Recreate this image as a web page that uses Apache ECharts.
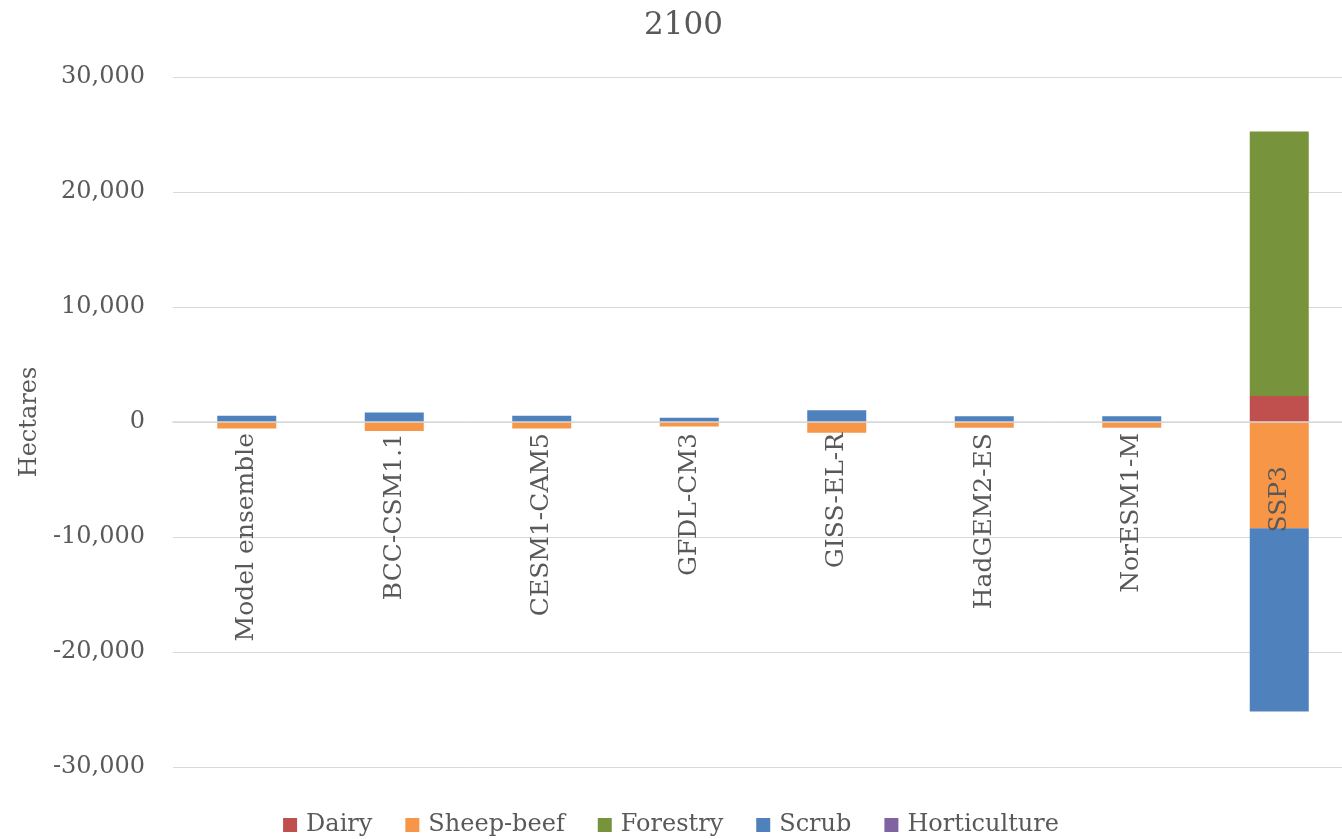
<!DOCTYPE html>
<html>
<head>
<meta charset="utf-8">
<script src="https://cdn.jsdelivr.net/npm/echarts@6/dist/echarts.min.js"></script>
<style>
  html, body { margin: 0; padding: 0; background: #fff; }
  #chart { width: 1342px; height: 839px; }
</style>
</head>
<body>
<div id="chart"></div>
<script>
// Land-use change by 2100 (hectares), per climate model and scenario
const categories = ['Model ensemble', 'BCC-CSM1.1', 'CESM1-CAM5', 'GFDL-CM3', 'GISS-EL-R', 'HadGEM2-ES', 'NorESM1-M', 'SSP3'];
const dairy        = [0, 0, 0, 0, 0, 0, 0, 2260];
const sheepBeef    = [-570, -790, -570, -400, -930, -500, -500, -9240];
const forestry     = [0, 0, 0, 0, 0, 0, 0, 23000];
const scrub        = [550, 820, 550, 370, 1020, 500, 500, -15940];
const horticulture = [0, 0, 0, 0, 0, 0, 0, 0];

const FONT = '"DejaVu Serif", "Liberation Serif", serif';
const TEXT = '#595959';

// plot area geometry
const GRID_TOP = 77;
const GRID_BOTTOM = 72;
const PLOT_H = 839 - GRID_TOP - GRID_BOTTOM;

function bar(name, data, color) {
  return {
    name: name,
    type: 'bar',
    stack: 'total',
    barWidth: '40%',
    data: data,
    itemStyle: { color: color },
    emphasis: { disabled: true }
  };
}

// the scenario label sits a little further from the axis line
const categoryItems = categories.map(c =>
  c === 'SSP3' ? { value: c, textStyle: { padding: [0, 33, 0, 0] } } : c
);

const chart = echarts.init(document.getElementById('chart'), null, { renderer: 'canvas' });
chart.setOption({
  animation: false,
  backgroundColor: '#fff',
  title: {
    text: '2100',
    left: 639,
    top: 5,
    textStyle: { fontFamily: FONT, fontSize: 31, fontWeight: 'normal', color: TEXT }
  },
  legend: {
    bottom: -3,
    left: 'center',
    itemWidth: 14,
    itemHeight: 14,
    itemGap: 33,
    icon: 'rect',
    textStyle: { fontFamily: FONT, fontSize: 24, color: TEXT, padding: [0, 0, 0, 4] },
    data: ['Dairy', 'Sheep-beef', 'Forestry', 'Scrub', 'Horticulture']
  },
  grid: {
    left: 173, right: -11, top: GRID_TOP, bottom: GRID_BOTTOM,
    containLabel: false,
    outerBoundsMode: 'none'
  },
  xAxis: {
    type: 'category',
    data: categoryItems,
    z: 10,
    // category axis runs along the zero line (middle of the symmetric value range)
    offset: -PLOT_H / 2,
    axisLine: { onZero: false, lineStyle: { color: '#d9d9d9', width: 1.5 } },
    axisTick: { show: false },
    axisLabel: {
      rotate: 90,
      margin: 11,
      fontFamily: FONT,
      fontSize: 25,
      color: TEXT
    }
  },
  yAxis: {
    type: 'value',
    min: -30000,
    max: 30000,
    interval: 10000,
    name: 'Hectares',
    nameLocation: 'middle',
    nameGap: 130,
    nameTextStyle: { fontFamily: FONT, fontSize: 24, color: TEXT },
    axisLine: { show: false },
    axisTick: { show: false },
    splitLine: { lineStyle: { color: '#d9d9d9', width: 1 } },
    axisLabel: {
      margin: 28,
      fontFamily: FONT,
      fontSize: 24,
      color: TEXT,
      formatter: v => v.toLocaleString('en-US')
    }
  },
  series: [
    bar('Dairy', dairy, '#C0504D'),
    bar('Sheep-beef', sheepBeef, '#F79646'),
    bar('Forestry', forestry, '#77933C'),
    bar('Scrub', scrub, '#4F81BD'),
    bar('Horticulture', horticulture, '#8064A2')
  ]
});
</script>
</body>
</html>
